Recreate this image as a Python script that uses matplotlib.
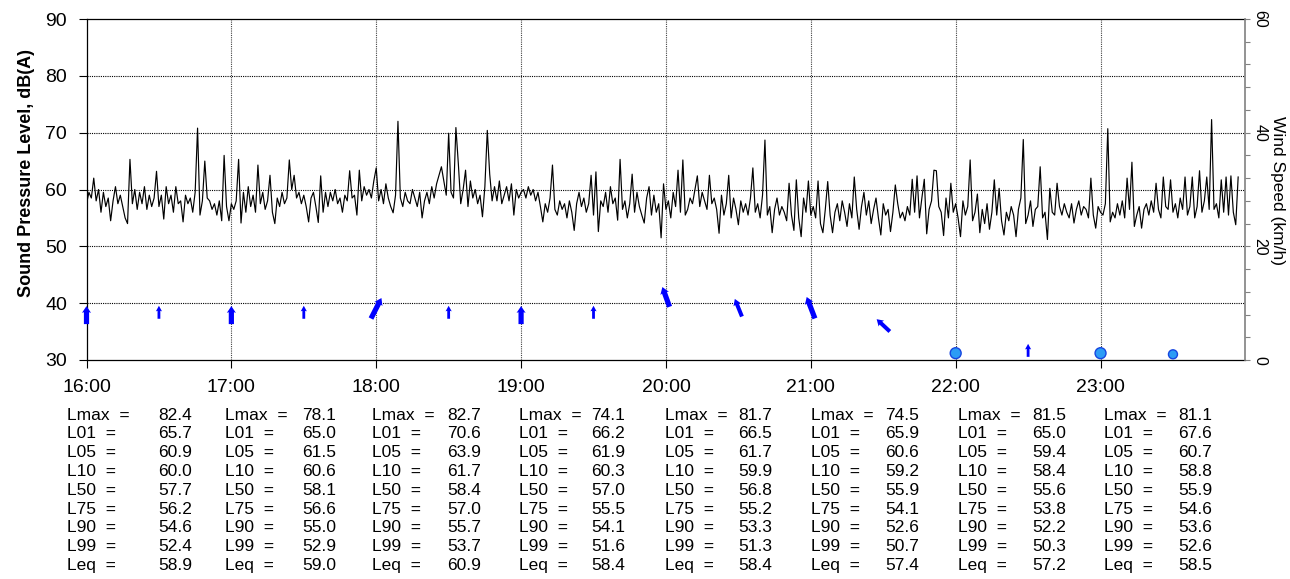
import matplotlib
matplotlib.use('Agg')
import matplotlib.pyplot as plt
import numpy as np

plt.rcParams['font.family'] = ['Liberation Sans', 'DejaVu Sans']

# 1-minute sound pressure levels, dB(A), one list per hour
spl_16 = [57.5, 59.5, 58.5, 62.0, 58.0, 60.0, 56.0, 59.5, 57.0, 58.5,
          54.5, 58.0, 60.5, 57.5, 59.0, 57.0, 55.0, 54.0, 65.3, 57.5,
          60.0, 56.5, 59.5, 57.5, 60.5, 56.5, 59.0, 57.0, 58.5, 63.2,
          57.0, 59.0, 54.8, 60.5, 57.5, 59.0, 56.0, 60.5, 57.5, 58.0,
          54.3, 59.0, 57.5, 58.5, 56.0, 59.5, 70.8, 55.5, 58.0, 65.0,
          58.5, 58.0, 56.5, 57.5, 55.5, 58.0, 54.5, 66.0, 57.0, 54.5]
spl_17 = [57.5, 56.5, 58.0, 65.3, 54.1, 59.5, 56.0, 60.5, 57.0, 59.0,
          56.0, 64.3, 57.5, 59.5, 56.5, 58.0, 62.5, 56.0, 54.0, 58.5,
          57.0, 59.5, 57.5, 58.5, 65.2, 60.0, 62.5, 58.5, 59.5, 57.5,
          59.0, 57.0, 54.3, 58.5, 59.5, 57.0, 54.2, 62.4, 56.0, 59.5,
          57.0, 59.5, 58.0, 60.0, 57.5, 58.5, 56.0, 59.0, 58.0, 63.3,
          58.5, 59.0, 55.5, 63.4, 58.0, 60.5, 59.0, 60.0, 58.5, 61.5]
spl_18 = [63.8, 58.0, 60.0, 57.5, 61.0, 58.5, 57.0, 55.9, 59.0, 72.0,
          58.5, 57.0, 59.5, 58.0, 57.5, 60.0, 58.5, 57.0, 59.5, 55.0,
          58.0, 59.5, 57.5, 60.5, 58.5, 61.0, 62.5, 64.0, 61.5, 59.0,
          69.9, 59.5, 58.5, 70.9, 64.6, 57.5, 60.0, 63.4, 57.0, 61.5,
          58.5, 60.0, 57.5, 59.0, 55.2, 60.5, 70.4, 62.7, 58.0, 60.5,
          58.0, 61.5, 57.5, 59.0, 60.5, 58.0, 61.0, 55.5, 60.0, 58.5]
spl_19 = [59.5, 60.0, 58.5, 60.5, 59.0, 60.0, 58.0, 59.5, 57.0, 54.3,
          57.5, 56.0, 58.5, 64.3, 56.5, 55.5, 58.0, 56.5, 57.5, 55.0,
          58.0, 56.0, 52.8, 57.5, 59.5, 57.0, 58.5, 56.0, 57.5, 62.5,
          55.5, 63.1, 52.6, 58.0, 57.0, 59.5, 56.0, 60.5, 57.5, 58.5,
          54.6, 65.3, 56.5, 58.0, 55.0, 57.5, 62.7, 56.0, 59.5, 57.0,
          55.5, 54.1, 58.5, 60.5, 55.5, 59.0, 56.0, 57.5, 51.5, 61.0]
spl_20 = [56.5, 58.0, 55.0, 59.5, 57.0, 63.4, 56.0, 65.2, 55.5, 56.5,
          58.5, 57.5, 60.0, 62.4, 57.0, 59.5, 58.0, 56.5, 62.5, 57.5,
          58.5, 56.5, 52.3, 59.0, 55.5, 57.5, 62.5, 55.0, 58.5, 56.5,
          53.8, 58.0, 56.0, 57.5, 55.5, 58.5, 63.8, 56.0, 57.5, 55.0,
          59.0, 68.7, 55.5, 57.0, 52.4, 56.5, 58.5, 55.5, 57.0, 56.0,
          54.5, 61.1, 55.5, 52.8, 61.7, 55.0, 51.7, 58.5, 56.0, 61.5]
spl_21 = [55.5, 57.0, 55.0, 61.5, 54.0, 52.4, 56.5, 61.4, 55.5, 52.4,
          56.0, 57.5, 54.5, 58.0, 56.0, 53.5, 57.5, 55.0, 62.2, 56.5,
          53.0, 57.0, 59.5, 55.5, 58.0, 54.0, 56.5, 58.5, 55.0, 52.0,
          57.5, 55.5, 56.5, 52.6, 56.0, 60.8, 57.5, 55.0, 56.0, 54.5,
          57.0, 55.5, 61.8, 56.0, 62.4, 55.0, 58.5, 61.8, 52.2, 56.5,
          58.0, 63.4, 63.3, 57.0, 56.0, 51.9, 58.5, 55.0, 61.1, 56.0]
spl_22 = [57.5, 55.0, 51.7, 58.0, 55.5, 57.0, 65.2, 54.5, 56.0, 59.2,
          52.4, 56.5, 54.0, 57.5, 53.0, 56.0, 61.7, 55.5, 60.2, 54.5,
          52.0, 56.0, 54.5, 57.0, 55.5, 51.7, 56.5, 58.5, 68.8, 54.0,
          55.5, 58.0, 53.5, 56.5, 57.0, 64.0, 55.0, 56.0, 51.2, 60.2,
          56.0, 55.5, 61.1, 57.0, 55.5, 57.5, 56.0, 55.0, 57.5, 54.1,
          56.5, 58.0, 55.5, 57.0, 56.5, 55.0, 62.0, 55.5, 53.2, 57.0]
spl_23 = [56.0, 55.5, 57.5, 70.7, 54.3, 56.0, 55.0, 57.5, 55.5, 58.0,
          55.0, 62.0, 56.5, 64.8, 53.5, 55.5, 57.0, 53.2, 56.5, 57.5,
          55.5, 58.0, 56.0, 61.1, 56.5, 55.0, 62.2, 57.0, 56.5, 61.7,
          56.0, 57.5, 55.0, 58.5, 56.5, 62.2, 55.5, 57.0, 62.2, 55.0,
          57.0, 63.3, 56.0, 58.0, 62.2, 56.5, 72.3, 56.5, 57.5, 55.0,
          61.7, 56.0, 62.2, 55.5, 62.4, 56.0, 53.8, 62.2]

# wind, half-hourly: speed (km/h) and direction the arrow points (deg clockwise from north)
wind_time = [16.0, 16.5, 17.0, 17.5, 18.0, 18.5, 19.0, 19.5,
             20.0, 20.5, 21.0, 21.5, 22.0, 22.5, 23.0, 23.5]
wind_speed = [7.9, 8.4, 7.9, 8.4, 9.1, 8.4, 7.9, 8.4,
              11.1, 9.2, 9.2, 6.1, 1.2, 1.7, 1.2, 1.0]
wind_dir = [0, 0, 0, 0, 27, 0, 0, 0,
            -20, -22, -21, -47, np.nan, 0, np.nan, np.nan]

# hourly statistics
stat_names = ['Lmax', 'L01', 'L05', 'L10', 'L50', 'L75', 'L90', 'L99', 'Leq']
stats_16 = [82.4, 65.7, 60.9, 60.0, 57.7, 56.2, 54.6, 52.4, 58.9]
stats_17 = [78.1, 65.0, 61.5, 60.6, 58.1, 56.6, 55.0, 52.9, 59.0]
stats_18 = [82.7, 70.6, 63.9, 61.7, 58.4, 57.0, 55.7, 53.7, 60.9]
stats_19 = [74.1, 66.2, 61.9, 60.3, 57.0, 55.5, 54.1, 51.6, 58.4]
stats_20 = [81.7, 66.5, 61.7, 59.9, 56.8, 55.2, 53.3, 51.3, 58.4]
stats_21 = [74.5, 65.9, 60.6, 59.2, 55.9, 54.1, 52.6, 50.7, 57.4]
stats_22 = [81.5, 65.0, 59.4, 58.4, 55.6, 53.8, 52.2, 50.3, 57.2]
stats_23 = [81.1, 67.6, 60.7, 58.8, 55.9, 54.6, 53.6, 52.6, 58.5]

hour_labels = ['16:00', '17:00', '18:00', '19:00', '20:00', '21:00', '22:00', '23:00']


W, H = 1290, 579
fig = plt.figure(figsize=(W / 100, H / 100), dpi=100)
ax = fig.add_axes([86.5 / W, 1 - 360 / H, (1245.4 - 86.5) / W, (360 - 19) / H])

spl = np.concatenate([spl_16, spl_17, spl_18, spl_19, spl_20, spl_21, spl_22, spl_23])
t = 16 + np.arange(len(spl)) / 60.0
ax.plot(t, spl, color='black', lw=0.85, zorder=3)

ax.set_xlim(16, 24)
ax.set_ylim(30, 90)
ax.set_yticks(range(30, 91, 10))
ax.set_xticks(range(16, 24))
ax.set_xticklabels(hour_labels)
ax.tick_params(axis='both', labelsize=14, length=6, width=0.8, direction='out')
ax.tick_params(axis='y', pad=8)
ax.tick_params(axis='x', pad=8)

# dotted grid
for yv in range(40, 90, 10):
    ax.axhline(yv, color='black', lw=0.8, ls=(0, (1, 1)), zorder=1)
for xv in range(17, 24):
    ax.axvline(xv, color='#444444', lw=0.8, ls=(0, (1, 1)), zorder=1)

for s in ['left', 'bottom', 'top']:
    ax.spines[s].set_linewidth(0.9)
ax.spines['right'].set_visible(False)

# right axis - wind speed
ax2 = ax.twinx()
ax2.set_ylim(0, 60)
ax2.set_yticks(range(0, 61, 4))
ax2.set_yticklabels([str(v) if v % 20 == 0 else '' for v in range(0, 61, 4)],
                    rotation=270, va='center', ha='left')
ax2.tick_params(axis='y', labelsize=11.5, length=3.5, color='#808080', pad=1.5)
ax2.spines['right'].set_color('#808080')
ax2.spines['right'].set_linewidth(1.2)
for s in ['left', 'bottom', 'top']:
    ax2.spines[s].set_visible(False)

# wind arrows: hourly ones thicker
arrow_len = [18, 13, 18, 13, 23, 13, 18, 13, 21, 19, 23, 18, 0, 13, 0, 0]
arrow_thick = [1, 0, 1, 0, 1, 0, 1, 0, 1, 0.6, 1, 0.6, 0, 0, 0, 0]
for x, sp, d, L, th in zip(wind_time, wind_speed, wind_dir, arrow_len, arrow_thick):
    if np.isnan(d):
        continue
    a = np.deg2rad(d)
    if th >= 1:
        w, hw, hl = 5.2, 1.75, 1.3
    elif th > 0:
        w, hw, hl = 4.0, 2.0, 1.6
    else:
        w, hw, hl = 2.8, 2.2, 2.0
    ax2.quiver(x, sp, L * np.sin(a), L * np.cos(a), angles='uv', scale_units='dots',
               scale=1, units='dots', width=w, headwidth=hw, headlength=hl,
               headaxislength=hl * 0.9, pivot='middle', color='#0000FF',
               zorder=4, clip_on=False)

calm = [i for i, d in enumerate(wind_dir) if np.isnan(d)]
calm_size = [62, 62, 42]
ax2.scatter([wind_time[i] for i in calm], [wind_speed[i] for i in calm], s=calm_size,
            facecolor='#2C9CF5', edgecolor='#1646E0', lw=1, zorder=4, clip_on=False)

# axis titles
fig.text(27 / W, 1 - 173 / H, 'Sound Pressure Level, dB(A)', rotation=90,
         ha='center', va='center', fontsize=13, fontweight='bold')
fig.text(1278 / W, 1 - 190 / H, 'Wind Speed (km/h)', rotation=270,
         ha='center', va='center', fontsize=12.5)

# statistics table under the chart
all_stats = [stats_16, stats_17, stats_18, stats_19, stats_20, stats_21, stats_22, stats_23]
label_x = [67, 225, 372, 519, 665, 811, 958, 1104]
value_x = [158, 302, 447, 591, 738, 885, 1032, 1178]
row_y0, row_dy = 415, 18.8
for c, vals in enumerate(all_stats):
    for r, (name, v) in enumerate(zip(stat_names, vals)):
        yy = 1 - (row_y0 + r * row_dy) / H
        fig.text(label_x[c] / W, yy, name + '  =', ha='left', va='center', fontsize=12.5)
        fig.text(value_x[c] / W, yy, '%.1f' % v, ha='left', va='center', fontsize=12.5)

fig.savefig('out.png', dpi=100)
